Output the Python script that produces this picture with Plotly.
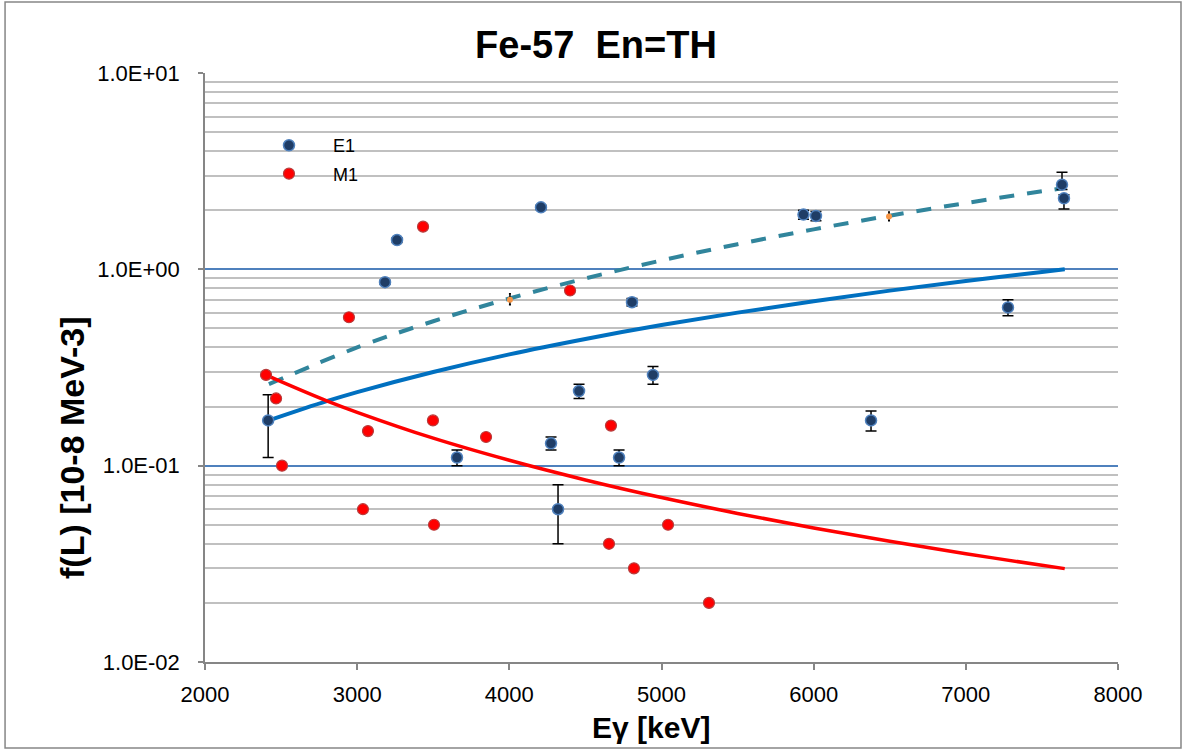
import plotly.graph_objects as go

# ---- E1 data (with asymmetric error bars as upper / lower values) ----
e1_x = [2415, 3183, 3262, 3656, 4208, 4274, 4320, 4458, 4806, 4721, 4944, 5933, 6015, 6377, 7277, 7632, 7645]
e1_y = [0.17, 0.86, 1.41, 0.11, 2.07, 0.13, 0.06, 0.24, 0.68, 0.11, 0.29, 1.90, 1.87, 0.17, 0.64, 2.70, 2.30]
e1_hi = [0.23, 0.88, 1.45, 0.12, 2.12, 0.14, 0.08, 0.26, 0.71, 0.12, 0.32, 2.00, 1.97, 0.19, 0.70, 3.12, 2.40]
e1_lo = [0.11, 0.84, 1.37, 0.10, 2.02, 0.12, 0.04, 0.22, 0.65, 0.10, 0.26, 1.80, 1.77, 0.15, 0.58, 2.55, 2.03]

# ---- M1 data ----
m1_x = [2401, 2467, 2506, 2946, 3038, 3071, 3433, 3498, 3505, 3847, 4399, 4655, 4668, 4819, 5043, 5312]
m1_y = [0.29, 0.22, 0.10, 0.57, 0.06, 0.15, 1.65, 0.17, 0.05, 0.14, 0.78, 0.04, 0.16, 0.03, 0.05, 0.02]

# ---- extra (orange) points ----
or_x = [4004, 6495]
or_y = [0.70, 1.86]
or_hi = [0.75, 1.96]
or_lo = [0.66, 1.77]

# ---- curves ----
dash_x = [2420, 3000, 3500, 4000, 4500, 5000, 5500, 6000, 6500, 7000, 7500, 7630]
dash_y = [0.260, 0.400, 0.544, 0.710, 0.899, 1.110, 1.343, 1.598, 1.876, 2.175, 2.497, 2.585]

blue_x = [2420, 2800, 3000, 3500, 4000, 4500, 5000, 5500, 6000, 6500, 7000, 7500, 7650]
blue_y = [0.170, 0.213, 0.237, 0.300, 0.369, 0.442, 0.520, 0.602, 0.688, 0.779, 0.873, 0.970, 1.000]

red_x = [2400, 2500, 2800, 3000, 3500, 4000, 4500, 5000, 5500, 6000, 6500, 7000, 7500, 7650]
red_y = [0.290, 0.268, 0.214, 0.187, 0.138, 0.1065, 0.0846, 0.0688, 0.0571, 0.0481, 0.0412, 0.0356, 0.0311, 0.0299]

x_ticks = [2000, 3000, 4000, 5000, 6000, 7000, 8000]
y_ticks = [0.01, 0.1, 1, 10]
y_tick_text = ["1.0E-02", "1.0E-01", "1.0E+00", "1.0E+01"]

FONT = "Liberation Sans, Arial, sans-serif"

fig = go.Figure()

fig.add_trace(go.Scatter(
    x=dash_x, y=dash_y, mode="lines", showlegend=False, hoverinfo="skip",
    line=dict(color="#31859C", width=4, dash="15px,13px", shape="spline")))
fig.add_trace(go.Scatter(
    x=blue_x, y=blue_y, mode="lines", showlegend=False, hoverinfo="skip",
    line=dict(color="#0070C0", width=4, shape="spline")))
fig.add_trace(go.Scatter(
    x=red_x, y=red_y, mode="lines", showlegend=False, hoverinfo="skip",
    line=dict(color="#FF0000", width=3.5, shape="spline")))

fig.add_trace(go.Scatter(
    x=or_x, y=or_y, mode="markers", showlegend=False,
    marker=dict(color="#F79646", size=6, line=dict(width=0)),
    error_y=dict(type="data", symmetric=False,
                 array=[h - v for h, v in zip(or_hi, or_y)],
                 arrayminus=[v - l for l, v in zip(or_lo, or_y)],
                 color="black", thickness=1.5, width=1)))

fig.add_trace(go.Scatter(
    x=e1_x, y=e1_y, mode="markers", name="E1", legendgroup="a",
    marker=dict(color="#1F3D66", size=11, line=dict(color="#4F81BD", width=1.5)),
    error_y=dict(type="data", symmetric=False,
                 array=[h - v for h, v in zip(e1_hi, e1_y)],
                 arrayminus=[v - l for l, v in zip(e1_lo, e1_y)],
                 color="black", thickness=1.5, width=5.5)))

fig.add_trace(go.Scatter(
    x=m1_x, y=m1_y, mode="markers", name="M1", legendgroup="b",
    marker=dict(color="#FF0000", size=11, line=dict(color="#B83C3C", width=1.2))))

fig.update_layout(
    width=1186, height=751,
    margin=dict(l=205, r=68, t=73, b=89),
    paper_bgcolor="white", plot_bgcolor="white",
    font=dict(family=FONT, color="black"),
    title=dict(text="<b>Fe-57  En=TH</b>", x=0.5025, xanchor="center",
               y=1 - 45 / 751, yanchor="middle", yref="container",
               font=dict(size=38, family=FONT)),
    legend=dict(x=0.0438, y=0.853, xanchor="left", yanchor="middle",
                bgcolor="rgba(0,0,0,0)", font=dict(size=18),
                itemwidth=78,
                traceorder="grouped", tracegroupgap=2),
    showlegend=True,
)

fig.update_xaxes(
    range=[2000, 8000], tickvals=x_ticks, ticktext=[str(v) for v in x_ticks],
    showgrid=False, zeroline=False,
    showline=True, linecolor="#868686", linewidth=1.5,
    ticks="outside", ticklen=6, tickcolor="#868686", tickwidth=1.5,
    tickfont=dict(size=22), ticklabelstandoff=6,
)

fig.update_yaxes(
    type="log", range=[-2, 1], tickvals=y_ticks, ticktext=y_tick_text,
    showgrid=True, gridcolor="#4F81BD", gridwidth=1.5,
    zeroline=False, showline=True, linecolor="#868686", linewidth=1.5,
    ticks="outside", ticklen=5, tickcolor="#868686", tickwidth=1.5,
    tickfont=dict(size=22), ticklabelstandoff=14,
    minor=dict(showgrid=True, gridcolor="#C0C0C0", gridwidth=1.8, dtick="D1", ticks=""),
)

# axis titles
fig.add_annotation(text="<b>Eγ [keV]</b>", xref="paper", yref="paper",
                   x=(651 - 205) / 913, y=(662 - 727) / 589,
                   xanchor="center", yanchor="middle", showarrow=False,
                   font=dict(size=30, family=FONT))
fig.add_annotation(text="<b>f(L) [10-8 MeV-3]</b>", xref="paper", yref="paper",
                   x=(72 - 205) / 913, y=(662 - 448) / 589, textangle=-90,
                   xanchor="center", yanchor="middle", showarrow=False,
                   font=dict(size=34, family=FONT))

fig.add_shape(type="rect", xref="paper", yref="paper",
              x0=-0.219, x1=1.069, y0=-0.146, y1=1.1205,
              line=dict(color="#868686", width=1.5), fillcolor="rgba(0,0,0,0)", layer="below")

fig.write_html("out.html")
